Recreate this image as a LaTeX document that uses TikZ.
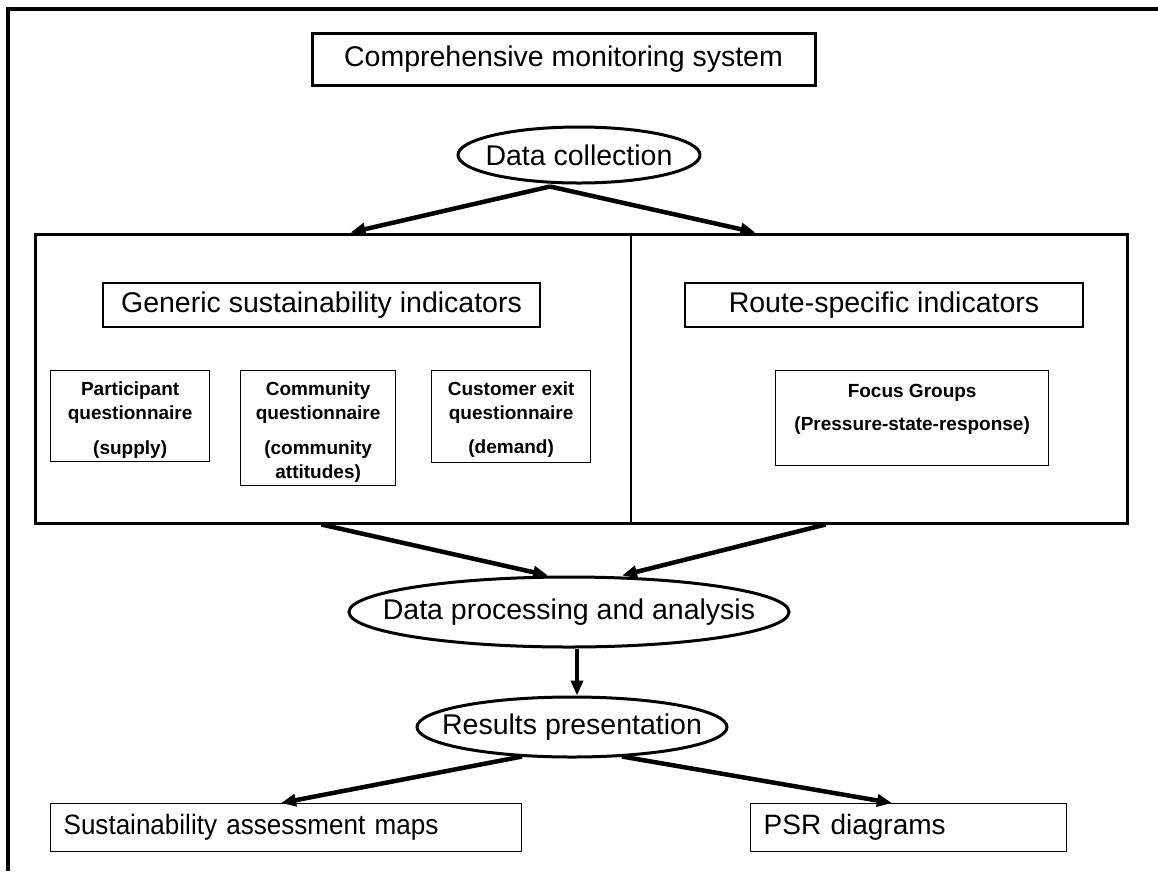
\documentclass[tikz,border=0pt]{standalone}
\usepackage{fontspec}
\setmainfont{Liberation Sans}
\newfontfamily\narrowfont{Liberation Sans}[FakeStretch=0.93]
\usetikzlibrary{shapes.geometric,arrows.meta,calc}
\begin{document}
\begin{tikzpicture}[x=1pt,y=-1pt,
  bigtxt/.style={font=\fontsize{28.5}{34}\selectfont},
  thickbox/.style={draw,line width=3pt,inner sep=0pt},
  thinbox/.style={draw,line width=1.3pt,inner sep=0pt},
  oval/.style={draw,ellipse,line width=3pt,inner sep=0pt,bigtxt},
  smallbox/.style={draw,line width=1.3pt,inner sep=0pt,anchor=north west,
     font=\fontsize{19}{24.5}\selectfont\bfseries},
  botbox/.style={draw,line width=1.3pt,anchor=north west,minimum height=48pt,
     inner xsep=13pt,inner ysep=0pt,align=left,font=\fontsize{28}{32}\selectfont},
  arr/.style={line width=4.5pt,-{Triangle[length=15pt,width=12pt]}},
]
\useasboundingbox (0,0) rectangle (1158,871);
% outer frame
\draw[line width=4.3pt] (8,871) -- (8,9) -- (1158,9);

% title
\node[thickbox,bigtxt,minimum width=503pt,minimum height=52pt] (title) at (563.5,59) {Comprehensive monitoring system};

% data collection
\node[oval,minimum width=242pt,minimum height=56pt] (dc) at (579,155) {\makebox[150pt]{Data collection}};

% big box
\node[thickbox,minimum width=1092pt,minimum height=289pt] (big) at (581,378.5) {};
\draw[line width=1.3pt] (631,234) -- (631,523);

\node[thinbox,bigtxt,minimum width=437pt,minimum height=44pt] (gen) at (321.5,305) {Generic sustainability indicators};
\node[thinbox,bigtxt,minimum width=398pt,minimum height=44pt] (route) at (884,305) {Route-specific indicators};

\node[smallbox] (part) at (50,370) {\parbox[c][91pt][t]{159pt}{\centering\vspace*{11pt}Participant\\questionnaire\\[10pt](supply)}};
\node[smallbox] (comm) at (240,370) {\parbox[c][115pt][t]{155pt}{\centering\vspace*{11pt}Community\\questionnaire\\[10pt](community\\attitudes)}};
\node[smallbox] (cust) at (431,370) {\parbox[c][92pt][t]{159pt}{\centering\vspace*{11pt}Customer exit\\questionnaire\\[9pt](demand)}};
\node[smallbox] (focus) at (775,370) {\parbox[c][95pt][t]{273pt}{\centering\vspace*{14pt}Focus Groups\\[8.5pt](Pressure-state-response)}};

% processing
\node[oval,minimum width=440pt,minimum height=70pt] (proc) at (569,612) {\makebox[250pt]{Data processing and analysis}};
% results
\node[oval,minimum width=310pt,minimum height=60pt] (res) at (572,727) {\makebox[150pt]{Results presentation}};

% bottom boxes
\node[botbox,text width=445pt,font=\narrowfont\fontsize{28}{32}\selectfont] (sam) at (50,803) {Sustainability assessment maps};
\node[botbox,text width=290pt] (psr) at (750,803) {PSR diagrams};

% connector end points
\coordinate (dcs) at ($(dc.south)+(-29,2)$);
\coordinate (bigL) at ($(big.north west)+(317,0)$);
\coordinate (bigR) at ($(big.north west)+(722,0)$);
\coordinate (bigBL) at ($(big.south west)+(288,0)$);
\coordinate (bigBR) at ($(big.south west)+(792,0)$);
\coordinate (procL) at ($(proc.north)+(-21,0)$);
\coordinate (procR) at ($(proc.north)+(53,0)$);
\coordinate (procS) at ($(proc.south)+(8,0)$);
\coordinate (resN) at ($(res.north)+(5,0)$);
\coordinate (resL) at ($(res.south)+(-50,-2)$);
\coordinate (resR) at ($(res.south)+(50,-2)$);
\coordinate (samT) at ($(sam.north west)+(231,0)$);
\coordinate (psrT) at ($(psr.north west)+(142,0)$);

\draw[arr] (dcs) -- (bigL);
\draw[arr] (dcs) -- (bigR);
\draw[arr] (bigBL) -- (procL);
\draw[arr] (bigBR) -- (procR);
\draw[arr] (procS) -- (resN);
\draw[arr] (resL) -- (samT);
\draw[arr] (resR) -- (psrT);
\end{tikzpicture}
\end{document}
